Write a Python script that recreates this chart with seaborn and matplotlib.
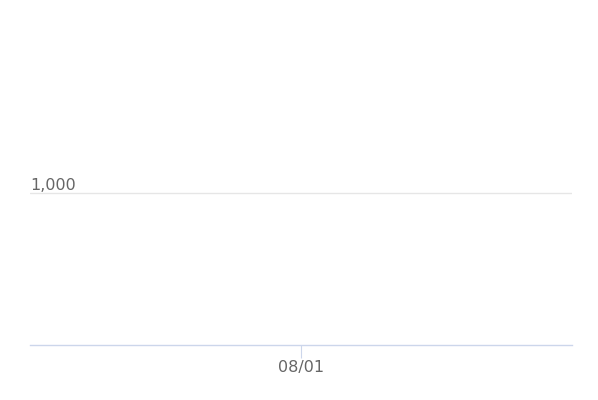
import matplotlib
matplotlib.use("Agg")
import matplotlib.pyplot as plt
import matplotlib.transforms as mtransforms
import pandas as pd
import seaborn as sns

# Data
dates = ["08/01"]
values = [0]
y_ticks = [1000]
y_tick_labels = ["1,000"]

df = pd.DataFrame({"date": dates, "value": values})

sns.set_style("white")
plt.rcParams["font.family"] = ["DejaVu Sans"]

fig = plt.figure(figsize=(5.98, 4.0), dpi=100)
ax = fig.add_axes([30 / 598, 55 / 400, 542 / 598, 304 / 400])

sns.lineplot(data=df, x="date", y="value", ax=ax, color="#7cb5ec", linewidth=2)

ax.set_xlim(-0.5, 0.5)
ax.set_ylim(0, 2000)
ax.set_xticks([0])
ax.set_xticklabels(dates)
ax.set_yticks(y_ticks)
ax.set_yticklabels(y_tick_labels)
ax.set_xlabel("")
ax.set_ylabel("")

for side in ["top", "right", "left"]:
    ax.spines[side].set_visible(False)
ax.spines["bottom"].set_color("#ccd6eb")
ax.spines["bottom"].set_linewidth(1)

ax.grid(axis="y", color="#e6e6e6", linewidth=1)
ax.grid(axis="x", visible=False)

ax.tick_params(axis="x", bottom=True, length=9.4, width=0.8, color="#ccd6eb",
               labelcolor="#666666", labelsize=11.5, pad=1.5)
ax.tick_params(axis="y", left=False, length=0, labelcolor="#666666", labelsize=11.5, pad=0)

offset = mtransforms.ScaledTranslation(0, 8.5 / 100, fig.dpi_scale_trans)
for lbl in ax.get_yticklabels():
    lbl.set_horizontalalignment("left")
    lbl.set_transform(lbl.get_transform() + offset)

fig.savefig("out.png", dpi=100)
